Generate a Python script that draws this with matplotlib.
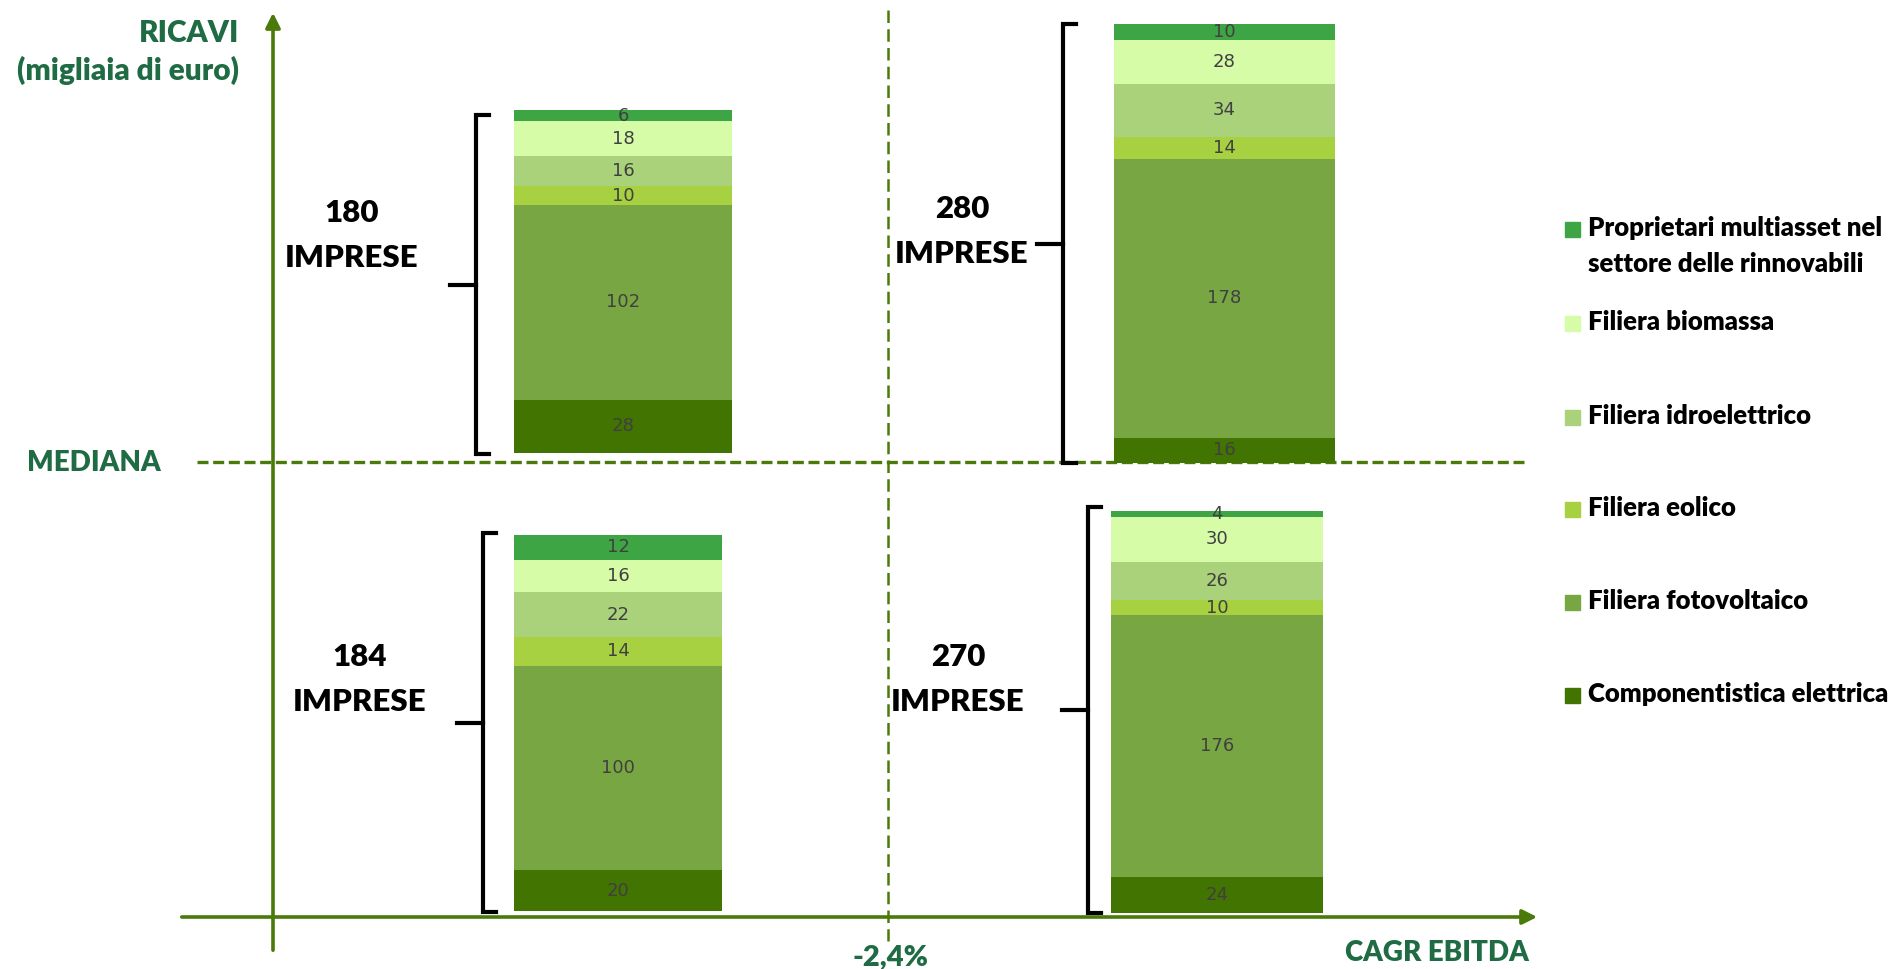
import numpy as np
import matplotlib
matplotlib.use('Agg')
import matplotlib.pyplot as plt

# Data
categories = ['Componentistica elettrica', 'Filiera fotovoltaico', 'Filiera eolico',
              'Filiera idroelettrico', 'Filiera biomassa',
              'Proprietari multiasset nel\nsettore delle rinnovabili']
colors = ['#417400', '#78A642', '#A7D140', '#A9D27A', '#D6FCA8', '#3DA544']

top_left = [28, 102, 10, 16, 18, 6]
top_right = [16, 178, 14, 34, 28, 10]
bottom_left = [20, 100, 14, 22, 16, 12]
bottom_right = [24, 176, 10, 26, 30, 4]

y_label = 'RICAVI\n(migliaia di euro)'
x_label = 'CAGR EBITDA'
x_split = '-2,4%'
y_split = 'MEDIANA'

W, H = 1892, 969
green = '#4A7A0A'
dark_green = '#1F6B44'
font = 'Lato'
weight = 'heavy'

fig = plt.figure(figsize=(W / 100, H / 100), dpi=100)
ax = fig.add_axes([0, 0, 1, 1])
ax.set_xlim(0, W)
ax.set_ylim(H, 0)
ax.axis('off')

# axes with arrows
ax.annotate('', xy=(273, 10), xytext=(273, 953),
            arrowprops=dict(arrowstyle='-|>', color=green, lw=2.6, mutation_scale=22))
ax.annotate('', xy=(1540, 917), xytext=(179, 917),
            arrowprops=dict(arrowstyle='-|>', color=green, lw=2.6, mutation_scale=22))

# median and split dashed lines
ax.plot([197, 1526], [462, 462], color=green, lw=2.4, dashes=(3.3, 1.4))
ax.plot([888, 888], [10, 941], color=green, lw=1.8, dashes=(5, 2.5))

ax.text(239, 52, y_label, ha='right', va='center', fontsize=21.5, fontweight=weight,
        color=dark_green, family=font, linespacing=1.4)
ax.text(27, 463, y_split, ha='left', va='center', fontsize=20, fontweight=weight,
        color=dark_green, family=font)
ax.text(890, 957, x_split, ha='center', va='center', fontsize=21, fontweight=weight,
        color=dark_green, family=font)
ax.text(1529, 953, x_label, ha='right', va='center', fontsize=20, fontweight=weight,
        color=dark_green, family=font)


def add_bar(values, box, bracket, label_xy):
    x0, x1, y0, y1 = box
    bax = fig.add_axes([x0 / W, 1 - y1 / H, (x1 - x0) / W, (y1 - y0) / H])
    total = sum(values)
    bottoms = np.cumsum([0] + values[:-1])
    bax.bar([0] * len(values), values, bottom=bottoms, width=1.0, color=colors)
    for v, b in zip(values, bottoms):
        bax.text(0, b + v / 2, str(v), ha='center', va='center', fontsize=13,
                 color='#404040', family='DejaVu Sans')
    bax.set_xlim(-0.5, 0.5)
    bax.set_ylim(0, total)
    bax.axis('off')

    # bracket
    bx, top, bot = bracket
    mid = (top + bot) / 2
    ax.plot([bx + 13, bx, bx, bx + 13], [top, top, bot, bot],
            color='black', lw=3, solid_joinstyle='miter')
    ax.plot([bx, bx - 26], [mid, mid], color='black', lw=3)

    lx, ly = label_xy
    ax.text(lx, ly, str(total), ha='center', va='center', fontsize=22.5,
            fontweight=weight, family=font)
    ax.text(lx, ly + 45, 'IMPRESE', ha='center', va='center', fontsize=22.5,
            fontweight=weight, family=font)


add_bar(top_left, (514, 732, 110, 453), (476, 115, 454), (352, 213))
add_bar(top_right, (1114, 1335, 24, 463), (1063, 24, 463), (962, 209))
add_bar(bottom_left, (514, 722, 535, 911), (483, 533, 912), (360, 657))
add_bar(bottom_right, (1111, 1323, 511, 913), (1088, 507, 913), (958, 657))

# legend
legend_y = [696, 603, 510, 418, 324, 230]
for cat, col, y in zip(categories, colors, legend_y):
    ax.add_patch(plt.Rectangle((1565, y - 8), 15, 15, color=col))
    ax.text(1588, y - 14, cat, ha='left', va='top', fontsize=18.5, fontweight=weight,
            family=font, linespacing=1.6)

plt.savefig('out.png', dpi=100)
